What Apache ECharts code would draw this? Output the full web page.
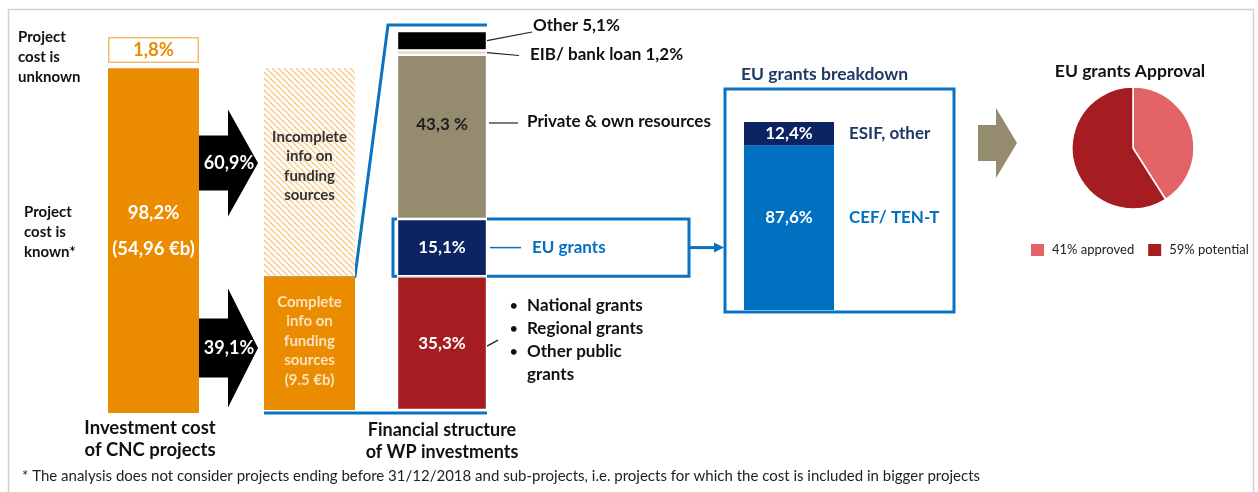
<!DOCTYPE html>
<html>
<head>
<meta charset="utf-8">
<script src="https://cdn.jsdelivr.net/npm/echarts@6/dist/echarts.min.js"></script>
<style>
  html, body { margin: 0; padding: 0; background: #fff; }
  #chart { width: 1258px; height: 492px; }
</style>
</head>
<body>
<div id="chart"></div>
<script>
// Investment cost of CNC projects (% of total cost)
const costKnown = 98.2;
const costUnknown = 1.8;
const costKnownAmount = '54,96 €b';

// Funding information for projects with known cost (%)
const infoNames = ['Complete info on funding sources', 'Incomplete info on funding sources'];
const infoShares = [39.1, 60.9];
const completeAmount = '9.5 €b';

// Financial structure of WP investments, bottom to top (%)
const fundingNames = ['Public grants', 'EU grants', 'Private & own resources', 'EIB/ bank loan', 'Other'];
const fundingShares = [35.3, 15.1, 43.3, 1.2, 5.1];
const publicGrantTypes = ['National grants', 'Regional grants', 'Other public', 'grants'];

// EU grants breakdown, bottom to top (%)
const euNames = ['CEF/ TEN-T', 'ESIF, other'];
const euShares = [87.6, 12.4];

// EU grants approval (%)
const approvalNames = ['approved', 'potential'];
const approvalShares = [41, 59];

const FONT = 'Lato';
const ORANGE = '#EB8B00';
const TAN = '#958B6F';
const NAVY = '#0D2463';
const RED = '#A51C21';
const BLUE = '#0070C0';
const LINE_BLUE = '#0B72C2';
const TITLE_NAVY = '#1F3864';

const pct = v => String(v).replace('.', ',') + '%';

// diagonal hatch used for the "incomplete info" block
function hatchPattern() {
  const s = 6;
  const c = document.createElement('canvas');
  c.width = s; c.height = s;
  const g = c.getContext('2d');
  g.fillStyle = '#fff';
  g.fillRect(0, 0, s, s);
  g.strokeStyle = '#F8D49C';
  g.lineWidth = 1.8;
  for (let k = -s; k <= s; k += s) {
    g.beginPath(); g.moveTo(k, 0); g.lineTo(k + s, s); g.stroke();
  }
  return c;
}

const grids = [
  { left: 108, top: 62, width: 91, height: 351 },   // known cost
  { left: 108, top: 37, width: 91, height: 26 },    // unknown cost
  { left: 264, top: 68, width: 91, height: 342 },   // info availability
  { left: 397, top: 31, width: 90, height: 379 },   // financial structure
  { left: 744, top: 122, width: 90, height: 188 }   // EU grants breakdown
];
const yMax = [100, costUnknown, 100, 100, 100];

const xAxes = grids.map((g, i) => ({ type: 'category', gridIndex: i, data: ['x'], show: false }));
const yAxes = grids.map((g, i) => ({ type: 'value', gridIndex: i, min: 0, max: yMax[i], show: false }));

function bar(grid, name, value, itemStyle, label, stack) {
  return {
    type: 'bar', name, xAxisIndex: grid, yAxisIndex: grid, stack,
    data: [value], barWidth: '100%', silent: true,
    itemStyle, label: Object.assign({ show: true, position: 'inside', fontFamily: FONT, fontWeight: 'bold' }, label || {})
  };
}

const series = [];

// column 1
series.push(bar(0, 'Project cost is known', costKnown, { color: ORANGE }, {
  formatter: () => `{v|${pct(costKnown)}}\n{a|(${costKnownAmount})}`,
  offset: [0, -10],
  rich: {
    v: { fontFamily: FONT, fontWeight: 'bold', fontSize: 18.5, color: '#fff', lineHeight: 36 },
    a: { fontFamily: FONT, fontWeight: 'bold', fontSize: 18.5, color: '#fff', lineHeight: 36 }
  }
}));
series.push(bar(1, 'Project cost is unknown', costUnknown,
  { color: '#fff', borderColor: '#F6BD6A', borderWidth: 1.5 },
  { formatter: () => pct(costUnknown), color: ORANGE, fontSize: 18.5 }));

// column 2
series.push(bar(2, infoNames[0], infoShares[0], { color: ORANGE }, {
  formatter: () => `Complete\ninfo on\nfunding\nsources\n(${completeAmount})`,
  color: '#FCE3BE', fontSize: 15, lineHeight: 19.5, offset: [0, -2]
}, 'info'));
series.push(bar(2, infoNames[1], infoShares[1], { color: { image: hatchPattern(), repeat: 'repeat' } }, {
  formatter: () => 'Incomplete\ninfo on\nfunding\nsources',
  color: '#333', fontSize: 15, lineHeight: 19.5, offset: [0, -6]
}, 'info'));

// column 3
const fundStyles = [
  { color: RED }, { color: NAVY }, { color: TAN }, { color: '#DDD8CC' }, { color: '#000' }
];
const fundLabels = [
  { formatter: () => pct(fundingShares[0]), color: '#fff', fontSize: 17 },
  { formatter: () => pct(fundingShares[1]), color: '#fff', fontSize: 17 },
  { formatter: () => String(fundingShares[2]).replace('.', ',') + ' %', color: '#1E1E1E', fontSize: 17, offset: [0, -12] },
  { show: false },
  { show: false }
];
fundingNames.forEach((n, i) => {
  series.push(bar(3, n, fundingShares[i], Object.assign({ borderColor: '#fff', borderWidth: 1.2 }, fundStyles[i]), fundLabels[i], 'fund'));
});

// EU grants breakdown
series.push(bar(4, euNames[0], euShares[0], { color: BLUE }, {
  formatter: () => pct(euShares[0]), color: '#fff', fontSize: 17, offset: [0, -10]
}, 'eu'));
series.push(bar(4, euNames[1], euShares[1], { color: NAVY }, {
  formatter: () => pct(euShares[1]), color: '#fff', fontSize: 17
}, 'eu'));

// EU grants approval
series.push({
  type: 'pie', center: [1133, 148], radius: 61, startAngle: 90, clockwise: true,
  silent: true, label: { show: false }, labelLine: { show: false },
  itemStyle: { borderColor: '#fff', borderWidth: 1.5 },
  data: approvalNames.map((n, i) => ({ name: n, value: approvalShares[i], itemStyle: { color: i === 0 ? '#E26466' : RED } }))
});

const chart = echarts.init(document.getElementById('chart'));
chart.setOption({
  animation: false,
  backgroundColor: '#fff',
  grid: grids.map(g => Object.assign({ containLabel: false }, g)),
  xAxis: xAxes,
  yAxis: yAxes,
  legend: {
    data: approvalNames, left: 1024, top: 237, icon: 'rect',
    itemWidth: 15, itemHeight: 14, itemGap: 12, selectedMode: false,
    formatter: name => `${approvalShares[approvalNames.indexOf(name)]}% ${name}`,
    textStyle: { fontFamily: FONT, fontSize: 13, color: '#222', padding: [0, 0, 0, 2] }
  },
  series
});

// pixel position of a value on a grid's value axis
const yPix = (grid, v) => chart.convertToPixel({ gridIndex: grid }, ['x', v])[1];
const cum = arr => arr.reduce((acc, v, i) => (acc.push((acc[i - 1] || 0) + v), acc), []);

const fundCum = cum(fundingShares);
const fundEdge = [0].concat(fundCum).map(v => yPix(3, v));      // bottom..top edges
const fundMid = i => (fundEdge[i] + fundEdge[i + 1]) / 2;
const infoTop = yPix(2, infoShares[0]);
const col3Top = yPix(3, 100), col3Bottom = yPix(3, 0);
const euCum = cum(euShares);
const euEdge = [0].concat(euCum).map(v => yPix(4, v));
const euMid = i => (euEdge[i] + euEdge[i + 1]) / 2;

const txt = (x, y, text, style) => ({
  type: 'text', x, y, silent: true,
  style: Object.assign({ text, fontFamily: FONT, fontWeight: 'bold', fontSize: 17, fill: '#111', verticalAlign: 'middle' }, style)
});
const line = (pts, stroke, lineWidth) => ({
  type: 'polyline', silent: true, shape: { points: pts },
  style: { stroke, lineWidth, fill: null, lineJoin: 'miter' }
});
const arrowShape = (x0, xb, xt, yc, bodyH, headH, fill) => ({
  type: 'polygon', silent: true,
  shape: { points: [[x0, yc - bodyH / 2], [xb, yc - bodyH / 2], [xb, yc - headH / 2], [xt, yc], [xb, yc + headH / 2], [xb, yc + bodyH / 2], [x0, yc + bodyH / 2]] },
  style: { fill }
});

const yEU = fundMid(1);
const boxRight = 689;

const graphic = [
  { type: 'rect', silent: true, shape: { x: 8.5, y: 9.5, width: 1245, height: 500 }, style: { fill: null, stroke: '#CFCFCF', lineWidth: 1.5 } },

  txt(18, 57, 'Project\ncost is\nunknown', { fontSize: 15, lineHeight: 20 }),
  txt(24, 232, 'Project\ncost is\nknown*', { fontSize: 15, lineHeight: 20 }),

  // flows from known cost to info availability
  arrowShape(199, 228, 258, 163, 55, 107, '#000'),
  arrowShape(199, 228, 258, 348, 59, 119, '#000'),
  txt(229, 163, pct(infoShares[1]), { fill: '#fff', fontSize: 18, align: 'center' }),
  txt(229, 348, pct(infoShares[0]), { fill: '#fff', fontSize: 18, align: 'center' }),

  // bracket linking complete info to financial structure
  line([[264, infoTop], [355, infoTop], [388, col3Top - 6], [487, col3Top - 6]], LINE_BLUE, 3),
  line([[264, col3Bottom + 3], [487, col3Bottom + 3]], LINE_BLUE, 3),

  // financial structure annotations
  line([[487, fundMid(4)], [532, 32]], '#222', 1.2),
  txt(533, 26, `${fundingNames[4]} ${pct(fundingShares[4])}`),
  line([[487, fundMid(3)], [519, 55.5]], '#222', 1.2),
  txt(530, 55, `${fundingNames[3]} ${pct(fundingShares[3])}`),
  line([[489, 123], [518, 123]], '#222', 1.2),
  txt(527, 122, fundingNames[2]),
  line([[487, fundMid(0) + 3], [498, fundMid(0) - 3]], '#222', 1.2),

  // EU grants box
  { type: 'rect', silent: true, shape: { x: 393, y: fundEdge[2], width: boxRight - 393, height: fundEdge[1] - fundEdge[2] },
    style: { fill: null, stroke: LINE_BLUE, lineWidth: 3 } },
  line([[490, yEU], [521, yEU]], LINE_BLUE, 1.5),
  txt(532, yEU, fundingNames[1], { fill: BLUE }),
  line([[boxRight, yEU], [716, yEU]], LINE_BLUE, 3),
  { type: 'polygon', silent: true, shape: { points: [[714, yEU - 5], [724, yEU], [714, yEU + 5]] }, style: { fill: LINE_BLUE } },

  // EU grants breakdown
  txt(741, 74, 'EU grants breakdown', { fill: TITLE_NAVY, fontSize: 17.5 }),
  { type: 'rect', silent: true, shape: { x: 725, y: 89, width: 229, height: 223 }, style: { fill: null, stroke: LINE_BLUE, lineWidth: 3 } },
  txt(849, euMid(1), euNames[1], { fill: TITLE_NAVY }),
  txt(849, euMid(0) - 10, euNames[0], { fill: BLUE }),

  // toward approval
  arrowShape(978, 996, 1017, 143, 36, 70, TAN),
  txt(1130, 71, 'EU grants Approval', { align: 'center', fill: '#111', fontSize: 17.5 }),

  // column titles
  txt(150, 439, 'Investment cost\nof CNC projects', { align: 'center', fontSize: 18.5, lineHeight: 22.5 }),
  txt(442, 441, 'Financial structure\nof WP investments', { align: 'center', fontSize: 18, lineHeight: 22.5 }),

  txt(22, 476, '* The analysis does not consider projects ending before 31/12/2018 and sub-projects, i.e. projects for which the cost is included in bigger projects',
    { fontWeight: 'normal', fontSize: 15, fill: '#222' })
];

// public grant types listed beside the red block
publicGrantTypes.forEach((t, i) => {
  const y = 306 + i * 23;
  if (i < 3) graphic.push(txt(510, y, '•', { fontSize: 13 }));
  graphic.push(txt(527, y, t));
});

chart.setOption({ graphic });
</script>
</body>
</html>
